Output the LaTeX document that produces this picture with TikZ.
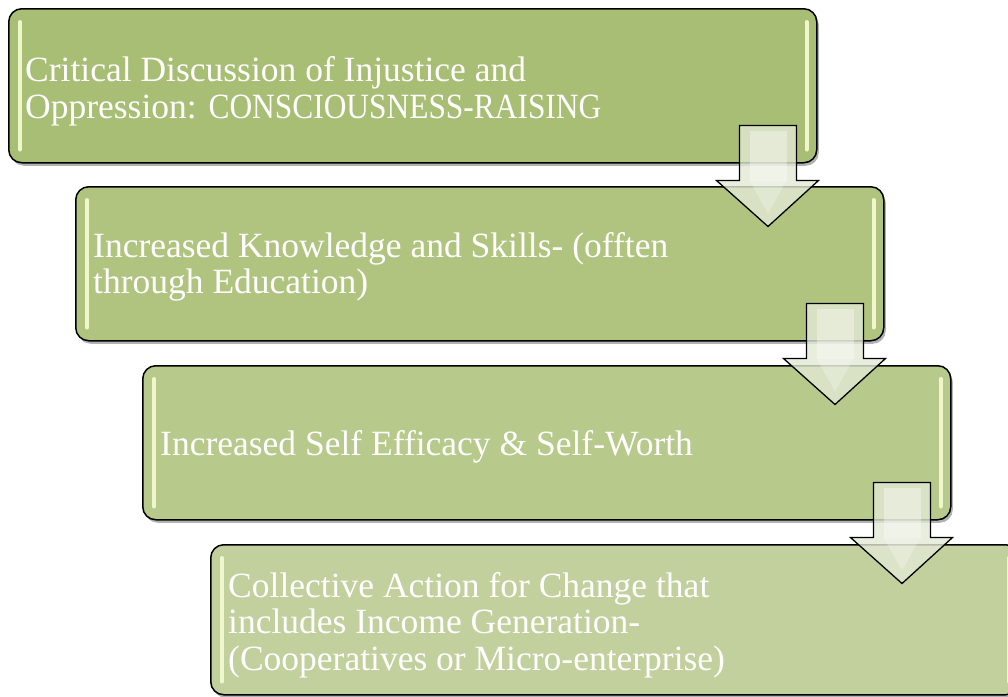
\documentclass[tikz,border=0pt]{standalone}
\usepackage{fontspec}
\usepackage{graphicx}
\setmainfont{Liberation Serif}
\usetikzlibrary{shadows,calc}
\definecolor{gA}{RGB}{169,190,117}
\definecolor{gB}{RGB}{176,196,127}
\definecolor{gC}{RGB}{183,201,139}
\definecolor{gD}{RGB}{193,208,157}
\definecolor{hlc}{RGB}{240,247,205}
\definecolor{arrfill}{RGB}{226,233,212}
\newcommand{\downarr}[1]{%
  \draw[arr] ($(#1.south east)+(-78,-38)$) -- ++(57,0) -- ++(0,55) -- ++(22,0)
    -- ($(#1.south east)+(-49.5,63)$) -- ($(#1.south east)+(-101,17)$) -- ++(23,0) -- cycle;
  \fill[white, opacity=0.35] ($(#1.south east)+(-68,-33)$) rectangle ($(#1.south east)+(-31,17)$);
  \fill[white, opacity=0.25] ($(#1.south east)+(-68,17)$) -- ($(#1.south east)+(-31,17)$) -- ($(#1.south east)+(-49.5,50)$) -- cycle;
}
\begin{document}
\begin{tikzpicture}[x=1pt,y=-1pt,
  box/.style={draw=black, line width=1.5pt, rounded corners=13pt,
    minimum width=808pt, minimum height=154pt, anchor=north west, inner sep=0pt,
    drop shadow={shadow xshift=2pt, shadow yshift=-3pt, opacity=0.3, fill=black}},
  txt/.style={text=white, font=\fontsize{35.5}{36.5}\selectfont, align=left, anchor=west, inner sep=0pt},
  hl/.style={line width=4pt, line cap=round, draw=hlc},
  arr/.style={draw=black, line width=1.3pt, fill=arrfill, fill opacity=0.8, line join=miter}]
\useasboundingbox (0,0) rectangle (1008,696);
\begin{scope}
\clip (0,0) rectangle (1008,696);
\node[box, fill=gA] (b1) at (8,8) {};
\node[box, fill=gB] (b2) at (75,186) {};
\node[box, fill=gC] (b3) at (142,365) {};
\node[box, fill=gD, minimum height=150pt] (b4) at (210,544) {};
\foreach \b in {b1,b2,b3,b4}{
  \draw[hl] ([xshift=12pt, yshift=-14pt]\b.north west) -- ([xshift=12pt, yshift=14pt]\b.south west);
  \draw[hl] ([xshift=-11pt, yshift=-14pt]\b.north east) -- ([xshift=-11pt, yshift=14pt]\b.south east);
}
\node[txt] (t1) at (25,91.5) {Critical Discussion of Injustice and\\Oppression: \scalebox{0.885}[1]{CONSCIOUSNESS-RAISING}};
\node[txt] (t2) at (93,267) {Increased Knowledge and Skills- (offten\\through Education)};
\node[txt] (t3) at (160,446.5) {Increased Self Efficacy \& Self-Worth};
\node[txt] (t4) at (228,625) {Collective Action for Change that\\includes Income Generation-\\(Cooperatives or Micro-enterprise)};
\downarr{b1}
\downarr{b2}
\downarr{b3}
\end{scope}
\end{tikzpicture}
\end{document}
